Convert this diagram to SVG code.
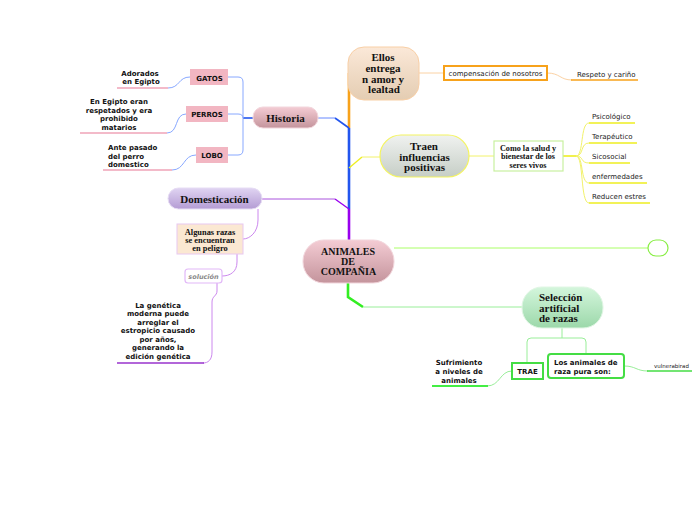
<svg xmlns="http://www.w3.org/2000/svg" width="696" height="520" viewBox="0 0 696 520">
<defs>
<linearGradient id="gPink" x1="0" y1="0" x2="0" y2="1"><stop offset="0" stop-color="#f4ccd4"/><stop offset="1" stop-color="#c4949c"/></linearGradient>
<linearGradient id="gPeach" x1="0" y1="0" x2="0" y2="1"><stop offset="0" stop-color="#fbe8d8"/><stop offset="1" stop-color="#e4cdb2"/></linearGradient>
<linearGradient id="gGray" x1="0" y1="0" x2="0" y2="1"><stop offset="0" stop-color="#f0f2f0"/><stop offset="1" stop-color="#c6cec6"/></linearGradient>
<linearGradient id="gGreen" x1="0" y1="0" x2="0" y2="1"><stop offset="0" stop-color="#d4f6dc"/><stop offset="1" stop-color="#9cd8aa"/></linearGradient>
<linearGradient id="gPurple" x1="0" y1="0" x2="0" y2="1"><stop offset="0" stop-color="#e0d4f2"/><stop offset="1" stop-color="#b49cd4"/></linearGradient>
</defs>
<style>
.serif{font-family:"Liberation Serif","Times New Roman",serif;font-weight:bold;fill:#111}
.sans{font-family:"DejaVu Sans",Verdana,sans-serif;fill:#222}
.b{font-weight:bold;fill:#111}
.s7{font-size:7px}
.c{text-anchor:middle}
.thin{fill:none;stroke-width:1}
.trunk{fill:none;stroke-width:2.6}
.grey{fill:#8a8a8a;font-style:italic;font-weight:bold}
</style>
<rect width="696" height="520" fill="#ffffff"/>
<g id="connectors">
<path class="trunk" stroke="#f7a21b" d="M349,73 L349,128"/>
<path class="trunk" stroke="#2255ee" d="M349,128 L349,209"/>
<path class="trunk" stroke="#9900ee" d="M349,209 L349,241"/>
<path class="trunk" stroke="#33ee22" d="M348,282 L348,297 L363,307"/>
<path fill="none" stroke="#2255ee" stroke-width="1.6" d="M335,118 L349,128"/>
<path class="thin" stroke="#6688ff" d="M318,118 L335,118"/>
<path fill="none" stroke="#2255ee" stroke-width="1.6" d="M243,118 L253,118"/>
<path class="thin" stroke="#88a8ff" d="M228,77 L238,77 Q243,77 243,82 L243,150 Q243,155 238,155 L228,155 M228,114 L238,114 Q243,114 243,118"/>
<path class="thin" stroke="#88a8ff" d="M190,77 C178,77 180,88 168,88 M186,114 C174,114 179,133 167,133 M196,155 C183,155 185,170 172,170"/>
<path fill="none" stroke="#f0a4b8" stroke-width="1.4" d="M117,88 L168,88 M80,133 L167,133 M103,170 L172,170"/>
<path fill="none" stroke="#eeee22" stroke-width="1.4" d="M349,168 L362,157"/>
<path class="thin" stroke="#f2f26a" d="M362,157 L381,157 M469,156 L494,156"/>
<path fill="none" stroke="#eeee22" stroke-width="1.6" d="M563,156 L576,156"/>
<path class="thin" stroke="#f2f26a" d="M576,156 C584,156 580,123 589,123 M576,156 C584,156 580,143 589,143 M576,156 C584,156 580,163 589,163 M576,156 C584,156 580,183 589,183 M576,156 C584,156 580,203 589,203"/>
<path fill="none" stroke="#eeee22" stroke-width="1.5" d="M589,123 L635,123 M589,143 L637,143 M589,163 L630,163 M589,183 L647,183 M589,203 L650,203"/>
<path class="thin" stroke="#fbd2a4" d="M419,73 L444,73 M547,73 C560,73 560,80 572,80"/>
<path fill="none" stroke="#f7a21b" stroke-width="1.5" d="M571,80 L638,80"/>
<path class="thin" stroke="#aaff66" d="M394,248 L648,248"/>
<path class="thin" stroke="#aa55dd" d="M262,199 L335,199"/>
<path fill="none" stroke="#9900ee" stroke-width="1.4" d="M335,199 L349,209"/>
<path class="thin" stroke="#cc88ee" d="M258,209 L258,220 C258,232 250,239 243,239 M237,254 L237,262 C237,272 230,276 222,276 M217,283 L217,291 C217,296 212,296 212,302 L212,352 C212,360 208,363 203,363"/>
<path fill="none" stroke="#9933cc" stroke-width="1.6" d="M117,363 L204,363"/>
<path class="thin" stroke="#99ee99" d="M363,307 L522,307 M562,328 L562,338 M531,338 L582,338 Q586,338 586,342 L586,354 M531,338 Q527,338 527,342 L527,363 M512,371 C500,371 500,386 487,386 M624,366 C636,366 636,371 648,371"/>
<path fill="none" stroke="#44ee44" stroke-width="1.8" d="M432,386 L488,386"/>
<path fill="none" stroke="#44dd44" stroke-width="1.4" d="M647,371 L692,371"/>
</g>
<g id="n-animales">
<rect x="303" y="240" width="91" height="43" rx="21" fill="url(#gPink)" stroke="#f2d6dc" stroke-width="1"/>
<text class="serif c" font-size="10" x="348" y="254.5">ANIMALES</text>
<text class="serif c" font-size="10" x="348" y="264.5">DE</text>
<text class="serif c" font-size="10" x="348.5" y="274.5">COMPAÑIA</text>
</g>
<g id="n-ellos">
<rect x="348" y="47" width="71" height="53" rx="16" fill="url(#gPeach)" stroke="#f8cfa6" stroke-width="1"/>
<text class="serif c" font-size="11" x="383" y="61">Ellos</text>
<text class="serif c" font-size="11" x="383" y="72">entrega</text>
<text class="serif c" font-size="11" x="383" y="82.5">n amor y</text>
<text class="serif c" font-size="11" x="384" y="93">lealtad</text>
</g>
<g id="n-compensacion">
<rect x="444" y="66" width="103" height="14" fill="#ffffff" stroke="#f7a21b" stroke-width="2"/>
<text class="sans c s7" x="495.5" y="75.5">compensación de nosotros</text>
</g>
<g id="n-respeto">
<text class="sans s7" x="577" y="76.5">Respeto y cariño</text>
</g>
<g id="n-historia">
<rect x="253" y="107" width="65" height="21" rx="10" fill="url(#gPink)" stroke="#f2d6dc" stroke-width="1"/>
<text class="serif c" font-size="11" x="285.5" y="121.5">Historia</text>
</g>
<g id="n-gatos">
<rect x="190" y="69" width="38" height="16" fill="#f2b6c2"/>
<text class="sans b c s7" x="209.5" y="80.5">GATOS</text>
</g>
<g id="n-perros">
<rect x="186" y="106" width="42" height="16" fill="#f2b6c2"/>
<text class="sans b c s7" x="207" y="116.5">PERROS</text>
</g>
<g id="n-lobo">
<rect x="196" y="147" width="32" height="16" fill="#f2b6c2"/>
<text class="sans b c s7" x="212" y="158">LOBO</text>
</g>
<g id="n-adorados">
<text class="sans b c s7" x="140" y="75.5">Adorados</text>
<text class="sans b c s7" x="141" y="83.5">en Egipto</text>
</g>
<g id="n-egipto">
<text class="sans b c s7" x="119" y="104">En Egipto eran</text>
<text class="sans b c s7" x="119" y="112.5">respetados y era</text>
<text class="sans b c s7" x="119" y="121">prohibido</text>
<text class="sans b c s7" x="119" y="129.5">matarios</text>
</g>
<g id="n-antepasado">
<text class="sans b s7" x="108" y="150">Ante pasado</text>
<text class="sans b s7" x="108" y="158.5">del perro</text>
<text class="sans b s7" x="108" y="167">domestico</text>
</g>
<g id="n-traen">
<rect x="380" y="135" width="89" height="42" rx="21" fill="url(#gGray)" stroke="#f4f460" stroke-width="1.2"/>
<text class="serif c" font-size="11" x="424" y="149.5">Traen</text>
<text class="serif c" font-size="11" x="424.5" y="160.5">influencias</text>
<text class="serif c" font-size="11" x="424.5" y="171">positivas</text>
</g>
<g id="n-como">
<rect x="494" y="141" width="69" height="30" fill="#ffffff" stroke="#c8f0a0" stroke-width="1.2"/>
<text class="serif c" font-size="8.2" x="528" y="150.5">Como la salud y</text>
<text class="serif c" font-size="8.2" x="528" y="159">bienestar de los</text>
<text class="serif c" font-size="8.2" x="528" y="167.5">seres vivos</text>
</g>
<g id="n-psicologico"><text class="sans s7" x="592" y="118.5">Psicológico</text></g>
<g id="n-terapeutico"><text class="sans s7" x="592" y="138.5">Terapéutico</text></g>
<g id="n-sicosocial"><text class="sans s7" x="592" y="158.5">Sicosocial</text></g>
<g id="n-enfermedades"><text class="sans s7" x="592" y="178.5">enfermedades</text></g>
<g id="n-reducen"><text class="sans s7" x="592" y="198.5">Reducen estres</text></g>
<g id="n-vacio">
<rect x="648" y="240" width="20" height="16" rx="8" fill="#ffffff" stroke="#88ee44" stroke-width="1.2"/>
</g>
<g id="n-domesticacion">
<rect x="168" y="188" width="94" height="21" rx="10.5" fill="url(#gPurple)" stroke="#e6dcf4" stroke-width="1"/>
<text class="serif c" font-size="11" x="214.5" y="202.5">Domesticación</text>
</g>
<g id="n-algunas">
<rect x="177" y="224" width="66" height="30" fill="#fbe8d2" stroke="#e8c8f0" stroke-width="1"/>
<text class="serif c" font-size="8.4" x="210" y="235">Algunas razas</text>
<text class="serif c" font-size="8.4" x="210" y="243">se encuentran</text>
<text class="serif c" font-size="8.4" x="210" y="251">en peligro</text>
</g>
<g id="n-solucion">
<rect x="185" y="269" width="37" height="14" rx="3" fill="#ffffff" stroke="#e2b8f8" stroke-width="1.2"/>
<text class="sans c grey" font-size="6.5" x="203.5" y="278.5">solución</text>
</g>
<g id="n-genetica">
<text class="sans b c s7" x="158" y="307.5">La genética</text>
<text class="sans b c s7" x="158" y="316">moderna puede</text>
<text class="sans b c s7" x="158" y="324.5">arreglar el</text>
<text class="sans b c s7" x="158" y="333">estropicio causado</text>
<text class="sans b c s7" x="158" y="341.5">por años,</text>
<text class="sans b c s7" x="158" y="350">generando la</text>
<text class="sans b c s7" x="158" y="358.5">edición genética</text>
</g>
<g id="n-seleccion">
<rect x="522" y="287" width="81" height="41" rx="20" fill="url(#gGreen)" stroke="#e0f6e4" stroke-width="1"/>
<text class="serif" font-size="11" x="539" y="300.5">Selección</text>
<text class="serif" font-size="11" x="539" y="311.5">artificial</text>
<text class="serif" font-size="11" x="539" y="322">de razas</text>
</g>
<g id="n-trae">
<rect x="512" y="363" width="31" height="16" fill="#ffffff" stroke="#44dd44" stroke-width="2"/>
<text class="sans b c s7" x="527.5" y="374">TRAE</text>
</g>
<g id="n-losanimales">
<rect x="548" y="354" width="76" height="24" rx="3" fill="#ffffff" stroke="#44dd44" stroke-width="2"/>
<text class="sans b s7" x="554" y="364.5">Los animales de</text>
<text class="sans b s7" x="554" y="373.5">raza pura son:</text>
</g>
<g id="n-sufrimiento">
<text class="sans b c s7" x="459" y="365">Sufrimiento</text>
<text class="sans b c s7" x="459" y="374">a niveles de</text>
<text class="sans b c s7" x="459" y="382.5">animales</text>
</g>
<g id="n-vulnerable">
<text class="sans" font-size="5.5" x="654" y="367.5">vulnerabirad</text>
</g>
</svg>
